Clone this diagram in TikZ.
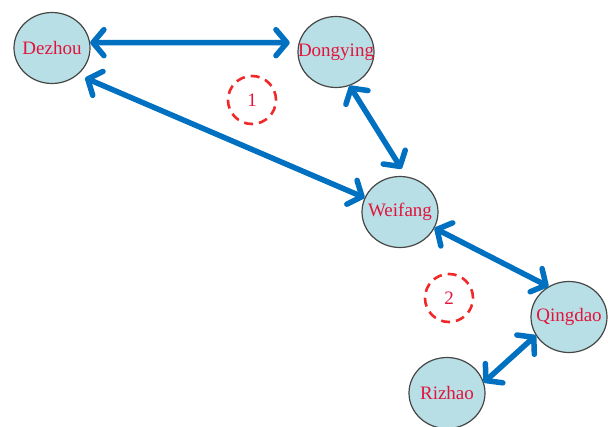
\documentclass[tikz,border=0pt]{standalone}
\usepackage{fontspec}
\setmainfont{Liberation Serif}
\usetikzlibrary{arrows.meta,shapes.geometric}
\definecolor{nodefill}{RGB}{184,223,230}
\definecolor{nodeline}{RGB}{70,70,70}
\definecolor{cityred}{RGB}{226,20,60}
\definecolor{arrowblue}{RGB}{0,112,192}
\definecolor{dashred}{RGB}{240,40,40}
\tikzset{
  city/.style={ellipse, draw=nodeline, line width=1.2pt, fill=nodefill,
    minimum width=76pt, minimum height=71pt, inner sep=0pt,
    label={[text=cityred, font=\fontsize{19}{22}\selectfont, inner sep=0pt]center:#1}},
  zone/.style={circle, draw=dashred, line width=2.6pt, dash pattern=on 9pt off 6pt,
    minimum size=48pt, inner sep=0pt, text=cityred, font=\fontsize{19}{22}\selectfont},
  link/.style={draw=arrowblue, line width=5.5pt,
    {Straight Barb[length=11pt,width=26pt,line cap=round,line join=round]}-{Straight Barb[length=11pt,width=26pt,line cap=round,line join=round]}}
}
\begin{document}
\begin{tikzpicture}[x=1pt,y=-1pt]
\useasboundingbox (0,0) rectangle (608,426);
\node[city=Dezhou] (Dezhou) at (52,48) {};
\node[city=Dongying] (Dongying) at (336,52) {};
\node[city=Weifang] (Weifang) at (400,212) {};
\node[city=Qingdao] (Qingdao) at (569,317) {};
\node[city=Rizhao] (Rizhao) at (447,393) {};
\node[zone] (z1) at (252,100) {1};
\node[zone] (z2) at (449,298) {2};
\draw[link, shorten >=9pt] (Dezhou.8) -- (Dongying.166);
\draw[link, shorten <=8pt] (Dezhou.-46) -- (Weifang.158);
\draw[link, shorten >=9pt] (Dongying.-68) -- (Weifang.80);
\draw[link] (Weifang.-25) -- (Qingdao.124);
\draw[link] (Qingdao.209) -- (Rizhao.16);
\end{tikzpicture}
\end{document}
